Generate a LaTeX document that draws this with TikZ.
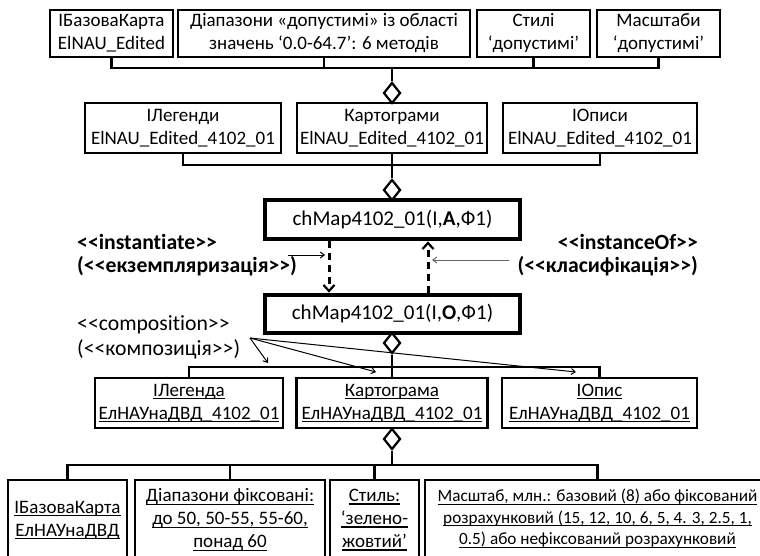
\documentclass[tikz,border=0pt]{standalone}
\usepackage{fontspec}
\newfontfamily\carl{Carlito}[Ligatures=CommonOff]
\usetikzlibrary{arrows.meta,shapes.geometric}

% underlined line of text with a rule just below the baseline
\newsavebox\ulbox
\newcommand\ulx[1]{\sbox\ulbox{#1}\rlap{\rule[-2.8pt]{\wd\ulbox}{1.1pt}}\usebox\ulbox}

\begin{document}
\begin{tikzpicture}[x=1pt,y=-1pt,
  box/.style={draw, line width=2.4pt, rectangle, inner sep=0pt, align=center,
              font=\carl\fontsize{19}{23}\selectfont},
  bigbox/.style={draw, line width=4.8pt, rectangle, inner sep=0pt,
              minimum width=255pt, font=\carl\fontsize{21}{25}\selectfont},
  conn/.style={line width=2.4pt},
  dia/.style={draw, diamond, fill=white, line width=2.2pt, minimum width=17pt,
              minimum height=21pt, inner sep=0pt},
  lbl/.style={inner sep=0pt, font=\carl\bfseries\fontsize{21.7}{25}\selectfont},
  cmp/.style={inner sep=0pt, font=\carl\fontsize{21.7}{25}\selectfont},
  dasharrow/.style={line width=3pt, dash pattern=on 7pt off 5pt,
              -{Straight Barb[length=6pt,width=11pt,line width=2.2pt]}},
  thinarrow/.style={line width=1pt, -{Straight Barb[length=4pt,width=6pt]}},
]
\clip (0,0) rectangle (760,556);
\fill[white] (0,0) rectangle (760,556);

% top row
\node[box, minimum width=123pt, minimum height=47pt] (a1) at (111.5,33.5) {ІБазоваКарта\\ElNAU\_Edited};
\node[box, minimum width=292pt, minimum height=47pt] (a2) at (324,33.5) {Діапазони «допустимі» із області\\значень ‘0.0-64.7’: 6 методів};
\node[box, minimum width=113pt, minimum height=47pt] (a3) at (533.5,33.5) {Стилі\\‘допустимі’};
\node[box, minimum width=123pt, minimum height=47pt] (a4) at (658.5,33.5) {Масштаби\\‘допустимі’};

% second row
\node[box, minimum width=196pt, minimum height=50pt] (b1) at (183,128) {ІЛегенди\\ElNAU\_Edited\_4102\_01};
\node[box, minimum width=190pt, minimum height=50pt] (b2) at (392,128) {Картограми\\ElNAU\_Edited\_4102\_01};
\node[box, minimum width=194pt, minimum height=50pt] (b3) at (600,128) {ІОписи\\ElNAU\_Edited\_4102\_01};

% abstract and concrete maps
\node[bigbox, minimum height=39pt] (cha) at (392.5,219.5) {chMap4102\_01(I,\textbf{A},Ф1)};
\node[bigbox, minimum height=38pt] (cho) at (392.5,314) {chMap4102\_01(I,\textbf{O},Ф1)};

% third row
\node[box, minimum width=188pt, minimum height=50pt] (c1) at (189,403) {\ulx{ІЛегенда}\\\ulx{ЕлНАУнаДВД\_4102\_01}};
\node[box, minimum width=191pt, minimum height=50pt] (c2) at (392,403) {\ulx{Картограма}\\\ulx{ЕлНАУнаДВД\_4102\_01}};
\node[box, minimum width=195pt, minimum height=50pt] (c3) at (599.5,403) {\ulx{ІОпис}\\\ulx{ЕлНАУнаДВД\_4102\_01}};

% bottom row
\node[box, minimum width=119pt, minimum height=80pt] (e1) at (67.5,520) {\ulx{ІБазоваКарта}\\\ulx{ЕлНАУнаДВД}};
\node[box, minimum width=190pt, minimum height=80pt] (e2) at (230,520) {\ulx{Діапазони фіксовані:}\\\ulx{до 50, 50-55, 55-60,}\\\ulx{понад 60}};
\node[box, minimum width=89pt, minimum height=80pt] (e3) at (374.5,520) {\ulx{Стиль:}\\\ulx{‘зелено-}\\\ulx{жовтий’}};
\node[box, minimum width=345pt, minimum height=80pt] (e4) at (597.5,520) {};
\node[font=\carl\fontsize{17.2}{21.5}\selectfont, align=center, inner sep=0pt] (e4t) at (597.5,518.5) {\ulx{Масштаб, млн.: базовий (8) або фіксований}\\\ulx{розрахунковий (15, 12, 10, 6, 5, 4. 3, 2.5, 1,}\\\ulx{0.5) або нефіксований розрахунковий}};

% aggregation diamonds
\node[dia] (d1) at (392,93) {};
\node[dia] (d2) at (392,190) {};
\node[dia] (d3) at (392,343) {};
\node[dia] (d4) at (392,439) {};

% bus junctions
\coordinate (j0) at (392,68);
\coordinate (j1) at (392,165);
\coordinate (j2) at (392,367);
\coordinate (j3) at (392,465);

\draw[conn] (a1.south) |- (j0) -| (a4.south);
\draw[conn] (a2.south) -- (a2.south |- j0);
\draw[conn] (a3.south) -- (a3.south |- j0);
\draw[conn] (j0) -- (d1.north);

\draw[conn] (b1.south) |- (j1) -| (b3.south);
\draw[conn] (b2.south) -- (j1) -- (d2.north);

\draw[conn] (d3.south) -- (j2) -- (c2.north);
\draw[conn] (c1.north) |- (j2) -| (c3.north);

\draw[conn] (d4.south) -- (j3);
\draw[conn] (e1.north) |- (j3) -| (e4.north);
\draw[conn] (e2.north) -- (e2.north |- j3);
\draw[conn] (e3.north) -- (e3.north |- j3);

% instantiate / instanceOf dependencies
\coordinate (xl) at (329,0);
\coordinate (xr) at (428,0);
\draw[dasharrow] (cha.south -| xl) -- (cho.north -| xl);
\draw[dasharrow] (cho.north -| xr) -- (cha.south -| xr);

\node[lbl, anchor=west] (inst) at (77,242) {<<instantiate>>};
\node[lbl, anchor=west] (inst2) at (77,266) {(<<екземпляризація>>)};
\node[lbl, anchor=east] (iof) at (698,242) {<<instanceOf>>};
\node[lbl, anchor=east] (iof2) at (698,266) {(<<класифікація>>)};

\coordinate (ls) at (288,255);
\coordinate (le) at (325,255);
\coordinate (rs) at (509,260);
\coordinate (re) at (432,260);
\draw[thinarrow] (ls) -- (le);
\draw[thinarrow, black!60] (rs) -- (re);

% composition labels and pointers
\node[cmp, anchor=west] (comp) at (77,325) {<<composition>>};
\node[cmp, anchor=west] (comp2) at (77,349) {(<<композиція>>)};
\coordinate (cf) at (250,338);
\coordinate (cp1) at (268,363);
\coordinate (cp2) at (376,372);
\coordinate (cp3) at (576,372);
\draw[thinarrow] (cf) -- (cp1);
\draw[thinarrow] (cf) -- (cp2);
\draw[thinarrow] (cf) -- (cp3);
\end{tikzpicture}
\end{document}
